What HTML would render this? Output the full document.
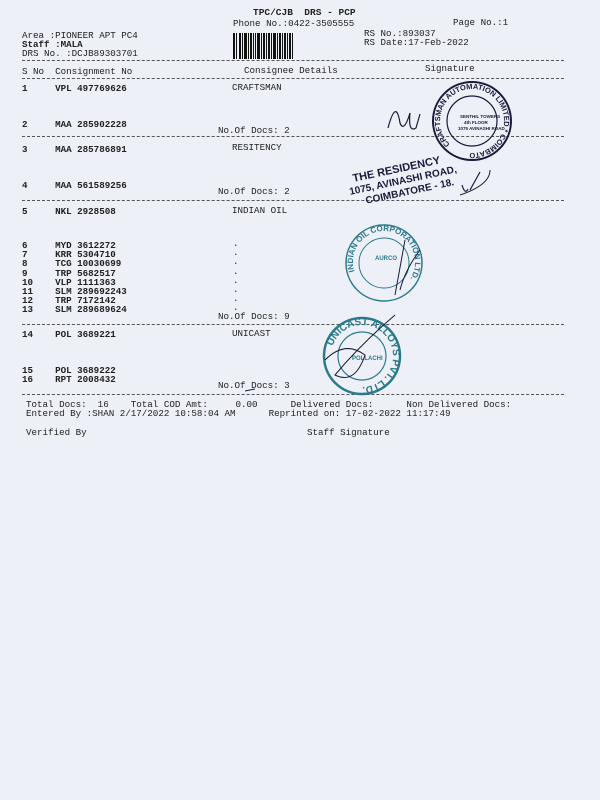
<!DOCTYPE html>
<html><head><meta charset="utf-8"><style>
html,body{margin:0;padding:0}
body{width:600px;height:800px;background:#eef0f7;position:relative;overflow:hidden;font-family:"Liberation Mono",monospace;font-size:9.2px;color:#222}
.t{position:absolute;white-space:pre;line-height:10px}
.b{font-weight:bold}
.d{position:absolute;left:22px;width:542px;border-top:1px dashed #555;height:0}
</style></head><body>
<div class="t b" style="left:253px;top:8px;font-size:9.5px">TPC/CJB  DRS - PCP</div>
<div class="t" style="left:233px;top:19px">Phone No.:0422-3505555</div>
<div class="t" style="left:453px;top:18px">Page No.:1</div>
<div class="t" style="left:22px;top:31px">Area :PIONEER APT PC4</div>
<div class="t b" style="left:22px;top:40px">Staff :MALA</div>
<div class="t" style="left:22px;top:49px">DRS No. :DCJB89303701</div>
<div class="t" style="left:364px;top:29px">RS No.:893037</div>
<div class="t" style="left:364px;top:38px">RS Date:17-Feb-2022</div>
<svg style="position:absolute;left:233px;top:33px" width="60" height="26">
<g fill="#111">
<rect x="0" y="0" width="2" height="26"/><rect x="3" y="0" width="1" height="26"/><rect x="6" y="0" width="2" height="26"/><rect x="9" y="0" width="1" height="26"/><rect x="11" y="0" width="3" height="26"/><rect x="15" y="0" width="1" height="26"/><rect x="17" y="0" width="2" height="26"/><rect x="20" y="0" width="1" height="26"/><rect x="22" y="0" width="1" height="26"/><rect x="24" y="0" width="3" height="26"/><rect x="28" y="0" width="1" height="26"/><rect x="30" y="0" width="2" height="26"/><rect x="33" y="0" width="1" height="26"/><rect x="35" y="0" width="2" height="26"/><rect x="38" y="0" width="1" height="26"/><rect x="40" y="0" width="3" height="26"/><rect x="44" y="0" width="1" height="26"/><rect x="46" y="0" width="2" height="26"/><rect x="49" y="0" width="1" height="26"/><rect x="51" y="0" width="2" height="26"/><rect x="54" y="0" width="1" height="26"/><rect x="56" y="0" width="2" height="26"/><rect x="59" y="0" width="1" height="26"/>
</g></svg>
<div class="d" style="top:60px"></div>
<div class="t" style="left:22px;top:67px">S No  Consignment No</div>
<div class="t" style="left:244px;top:66px">Consignee Details</div>
<div class="t" style="left:425px;top:64px">Signature</div>
<div class="d" style="top:78px"></div>

<div class="t b" style="left:22px;top:84px">1     VPL 497769626</div>
<div class="t" style="left:232px;top:83px">CRAFTSMAN</div>
<div class="t b" style="left:22px;top:120px">2     MAA 285902228</div>
<div class="t" style="left:218px;top:126px">No.Of Docs: 2</div>
<div class="d" style="top:136px"></div>
<div class="t b" style="left:22px;top:145px">3     MAA 285786891</div>
<div class="t" style="left:232px;top:143px">RESITENCY</div>
<div class="t b" style="left:22px;top:181px">4     MAA 561589256</div>
<div class="t" style="left:218px;top:187px">No.Of Docs: 2</div>
<div class="d" style="top:200px"></div>
<div class="t b" style="left:22px;top:207px">5     NKL 2928508</div>
<div class="t" style="left:232px;top:206px">INDIAN OIL</div>
<div class="t b" style="left:22px;top:241px;line-height:9.2px">6     MYD 3612272
7     KRR 5304710
8     TCG 10030699
9     TRP 5682517
10    VLP 1111363
11    SLM 289692243
12    TRP 7172142
13    SLM 289689624</div>
<div class="t" style="left:233px;top:239px;line-height:9.2px">.
.
.
.
.
.
.
.</div>
<div class="t" style="left:218px;top:312px">No.Of Docs: 9</div>
<div class="d" style="top:324px"></div>
<div class="t b" style="left:22px;top:330px">14    POL 3689221</div>
<div class="t" style="left:232px;top:329px">UNICAST</div>
<div class="t b" style="left:22px;top:366px;line-height:9.2px">15    POL 3689222
16    RPT 2008432</div>
<div class="t" style="left:218px;top:381px">No.Of Docs: 3</div>
<div class="d" style="top:394px"></div>
<div class="t" style="left:26px;top:400px">Total Docs:  16    Total COD Amt:     0.00      Delivered Docs:      Non Delivered Docs:</div>
<div class="t" style="left:26px;top:409px">Entered By :SHAN 2/17/2022 10:58:04 AM      Reprinted on: 17-02-2022 11:17:49</div>
<div class="t" style="left:26px;top:428px">Verified By</div>
<div class="t" style="left:307px;top:428px">Staff Signature</div>

<svg style="position:absolute;left:0;top:0" width="600" height="800">
<defs>
<path id="c1" d="M472 153 a32 32 0 1 1 0.1 0"/>
<path id="c2" d="M384 293 a31 31 0 1 1 0.1 0"/>
<path id="c3" d="M362 387 a31 31 0 1 1 0.1 0"/>
</defs>
<g fill="none" stroke="#1a1a3a" stroke-width="1.2">
<circle cx="472" cy="121" r="39" stroke-width="2"/>
<circle cx="472" cy="121" r="25"/>
<path d="M388 128 q8-30 12 -5 q4 10 10-10 q-2 20 6 15 l4-14"/>
<path d="M470 190 l10 -18 M462 185 q3 10 6 4"/>
</g>
<g font-family="Liberation Sans,sans-serif" fill="#1a1a3a" font-weight="bold">
<text font-size="7.5"><textPath href="#c1" startOffset="12%">CRAFTSMAN AUTOMATION LIMITED * COIMBATORE-18 *</textPath></text>
<text x="460" y="118" font-size="4.5">SENTHIL TOWERS</text>
<text x="464" y="124" font-size="4.5">4th FLOOR</text>
<text x="458" y="130" font-size="4.5">1075 AVINASHI ROAD</text>
<g transform="rotate(-12 400 170)">
<text x="352" y="172" font-size="11">THE RESIDENCY</text>
<text x="346" y="184" font-size="10">1075, AVINASHI ROAD,</text>
<text x="360" y="196" font-size="10">COIMBATORE - 18.</text>
</g>
</g>
<g fill="none" stroke="#2a7a8a" stroke-width="1.5">
<circle cx="384" cy="263" r="38"/>
<circle cx="384" cy="263" r="25" stroke-width="1"/>
<circle cx="362" cy="356" r="38" stroke-width="2.5"/>
<circle cx="362" cy="356" r="24" stroke-width="1.2"/>
</g>
<g font-family="Liberation Sans,sans-serif" fill="#2a7a8a" font-weight="bold">
<text font-size="8"><textPath href="#c2" startOffset="20%">INDIAN OIL CORPORATION LTD.</textPath></text>
<text font-size="10"><textPath href="#c3" startOffset="30%">UNICAST ALLOYS PVT. LTD. *</textPath></text>
<text x="352" y="360" font-size="6">POLLACHI</text>
<text x="375" y="260" font-size="6">AURCO</text>
</g>
<g fill="none" stroke="#1a1a3a" stroke-width="1">
<path d="M405 240 l-10 55 M420 250 q-15 20 -20 40"/>
<path d="M325 360 q20-20 40-5 q-10 30 -30 20 q25 -30 60 -60"/>
<path d="M460 195 q30 -10 30 -25"/>
<path d="M245 391 l10 -2"/>
</g>
</svg>
</body></html>
